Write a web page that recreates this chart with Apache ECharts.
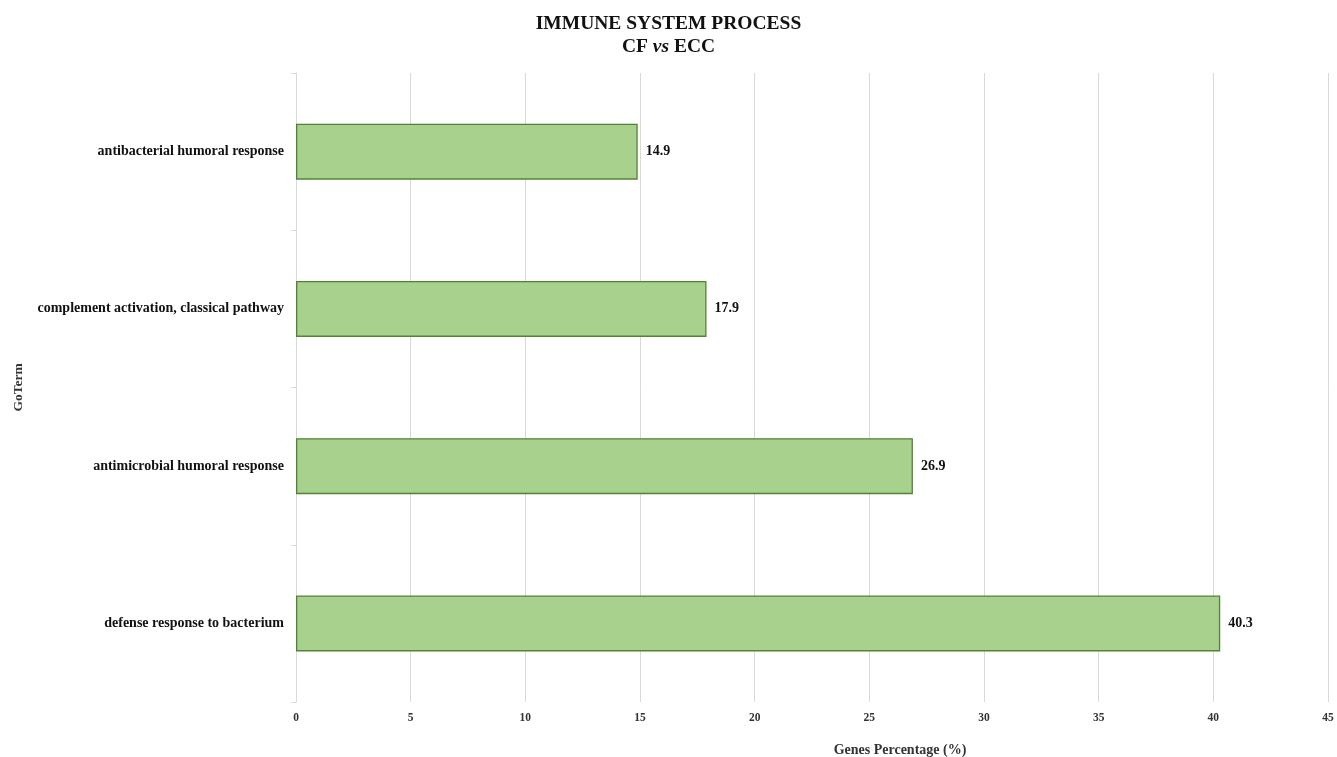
<!DOCTYPE html>
<html>
<head>
<meta charset="utf-8">
<script src="https://cdn.jsdelivr.net/npm/echarts@6/dist/echarts.min.js"></script>
<style>html,body{margin:0;padding:0;background:#fff;}#c{width:1337px;height:757px;}</style>
</head>
<body>
<div id="c"></div>
<script>
const categories = ['defense response to bacterium', 'antimicrobial humoral response', 'complement activation, classical pathway', 'antibacterial humoral response'];
const values = [40.3, 26.9, 17.9, 14.9];
const xTicks = { min: 0, max: 45, interval: 5 };

const font = '"Liberation Serif", "Times New Roman", serif';
const chart = echarts.init(document.getElementById('c'));
chart.setOption({
  backgroundColor: '#fff',
  animation: false,
  title: {
    text: '{a|IMMUNE SYSTEM PROCESS}\n{b|CF }{i|vs}{b| ECC}',
    left: 'center',
    top: 7,
    textStyle: {
      rich: {
        a: { fontFamily: font, fontWeight: 'bold', fontSize: 19.5, color: '#111', lineHeight: 23 },
        b: { fontFamily: font, fontWeight: 'bold', fontSize: 19.5, color: '#111', lineHeight: 23 },
        i: { fontFamily: font, fontWeight: 'bold', fontStyle: 'italic', fontSize: 19.5, color: '#111', lineHeight: 23 }
      }
    }
  },
  grid: { left: 296, right: 9, top: 73, bottom: 55, containLabel: false, outerBoundsMode: 'none' },
  xAxis: {
    type: 'value',
    min: xTicks.min, max: xTicks.max, interval: xTicks.interval,
    axisLine: { show: false },
    axisTick: { show: false },
    splitLine: { show: true, lineStyle: { color: '#d9d9d9', width: 1 } },
    axisLabel: { fontFamily: font, fontWeight: 'bold', fontSize: 11.5, color: '#333', margin: 10 },
    name: 'Genes Percentage (%)',
    nameLocation: 'middle',
    nameGap: 41,
    nameTextStyle: { fontFamily: font, fontWeight: 'bold', fontSize: 14, color: '#333', padding: [0, 0, 0, 176] }
  },
  yAxis: {
    type: 'category',
    data: categories,
    axisLine: { show: true, lineStyle: { color: '#d9d9d9', width: 1 } },
    axisTick: { show: true, length: 5, lineStyle: { color: '#d9d9d9' } },
    axisLabel: { fontFamily: font, fontWeight: 'bold', fontSize: 14, color: '#111', margin: 12 },
    name: 'GoTerm',
    nameLocation: 'middle',
    nameGap: 270,
    nameRotate: 90,
    nameTextStyle: { fontFamily: font, fontWeight: 'bold', fontSize: 13.5, color: '#333' }
  },
  series: [{
    type: 'bar',
    data: values,
    barWidth: 56,
    itemStyle: { color: '#a9d18e', borderColor: '#548235', borderWidth: 1.3 },
    label: {
      show: true, position: 'right', distance: 8,
      fontFamily: font, fontWeight: 'bold', fontSize: 14, color: '#111',
      formatter: p => p.value.toFixed(1)
    }
  }]
});
</script>
</body>
</html>
